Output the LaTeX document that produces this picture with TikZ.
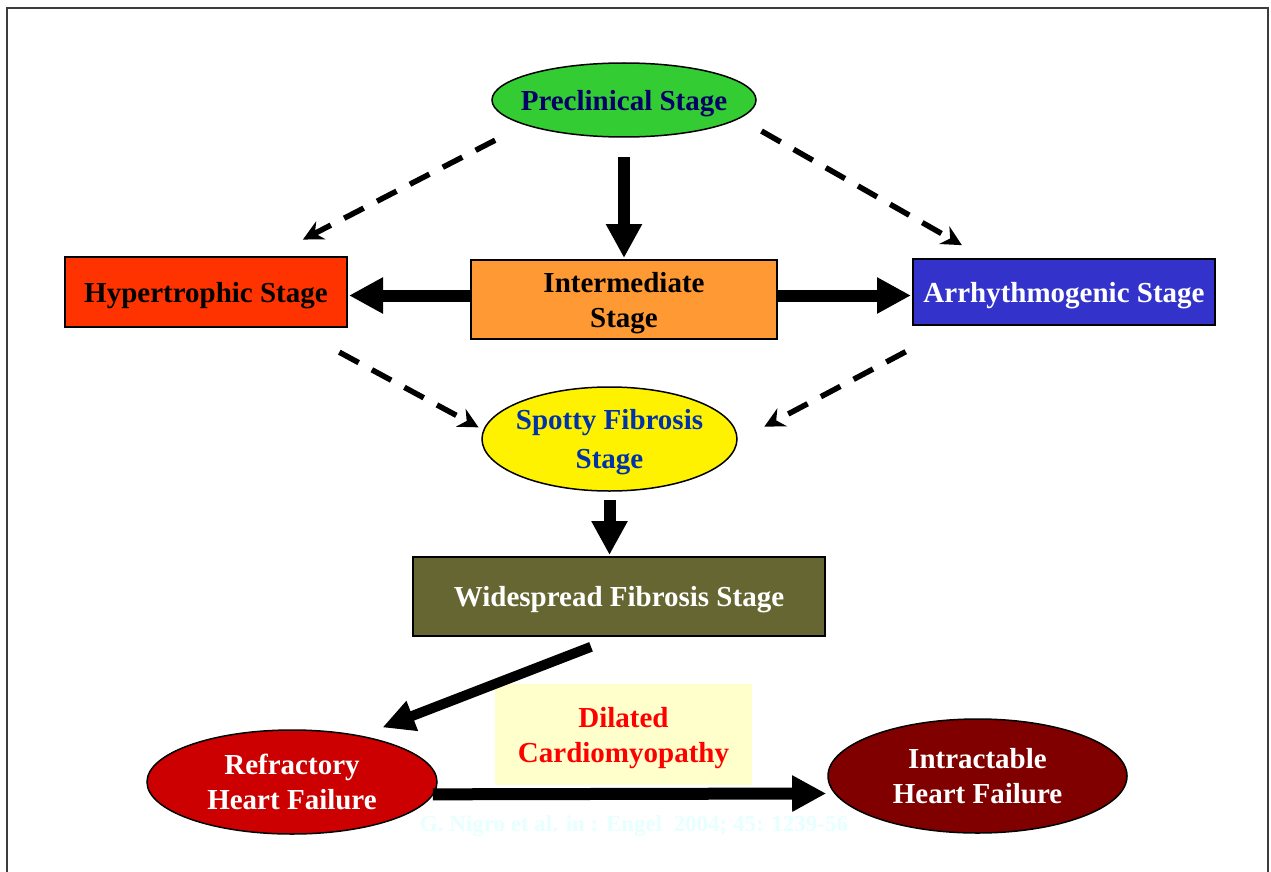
\documentclass[tikz,border=0pt]{standalone}
\usepackage{fontspec}
\setmainfont{Liberation Serif}
\usetikzlibrary{arrows.meta,shapes.geometric}

\definecolor{preGreen}{RGB}{51,204,51}
\definecolor{preText}{RGB}{0,0,102}
\definecolor{hypRed}{RGB}{255,51,0}
\definecolor{intOrange}{RGB}{255,153,51}
\definecolor{arrBlue}{RGB}{51,51,204}
\definecolor{spotText}{RGB}{0,51,170}
\definecolor{wideOlive}{RGB}{102,102,51}
\definecolor{refRed}{RGB}{204,0,0}
\definecolor{intrMaroon}{RGB}{128,0,0}
\definecolor{dcmYellow}{RGB}{255,255,204}
\definecolor{citeCyan}{RGB}{230,255,255}
\definecolor{frameGray}{RGB}{60,60,60}

\begin{document}
\begin{tikzpicture}[
    x=1pt, y=-1pt,
    font=\bfseries\fontsize{29}{35}\selectfont,
    stage/.style={draw, line width=1.5pt, outer sep=0pt, inner sep=2pt, align=center, text depth=0pt},
    box/.style={stage, rectangle},
    oval/.style={stage, ellipse},
    etxt/.style={align=center, inner sep=0pt, text depth=0pt},
    fatarr/.style={-{Triangle[length=34pt,width=34pt]}, line width=12pt},
    dasharr/.style={-{Stealth[length=20pt,width=20pt]}, line width=5.5pt, dash pattern=on 22pt off 15pt}
]
    \useasboundingbox (0,0) rectangle (1271,872);
    \draw[frameGray, line width=2pt] (7,872) -- (7,8) -- (1268,8) -- (1268,872);

    % stages
    \node[oval, fill=preGreen, minimum width=264pt, minimum height=74pt,
          label={[etxt, text=preText]center:Preclinical Stage}] (pre) at (624,100) {};
    \node[box, fill=hypRed, minimum width=282pt, minimum height=70pt] (hyp) at (206,292) {Hypertrophic Stage};
    \node[box, fill=intOrange, minimum width=306pt, minimum height=79pt] (int) at (624,299.5) {Intermediate\\Stage};
    \node[box, fill=arrBlue, text=white, minimum width=302pt, minimum height=66pt] (arr) at (1064,292) {Arrhythmogenic Stage};
    \node[oval, fill=yellow, minimum width=255pt, minimum height=104pt,
          label={[etxt, text=spotText, font=\bfseries\fontsize{29}{39}\selectfont]center:Spotty Fibrosis\\Stage}] (spot) at (609.5,439) {};
    \node[box, fill=wideOlive, text=white, minimum width=412pt, minimum height=79pt] (wide) at (619,596.5) {Widespread Fibrosis Stage};
    \node[fill=dcmYellow, text=red, align=center, text depth=0pt, minimum width=257pt, minimum height=101pt] (dcm) at (623.5,734.5) {Dilated\\Cardiomyopathy};
    \node[oval, fill=refRed, minimum width=290pt, minimum height=104pt,
          label={[etxt, text=white]center:Refractory\\Heart Failure}] (ref) at (292,782) {};
    \node[oval, fill=intrMaroon, minimum width=299pt, minimum height=114pt,
          label={[etxt, text=white]center:Intractable\\Heart Failure}] (intr) at (977.5,776) {};
    \node[text=citeCyan, font=\bfseries\fontsize{23}{27}\selectfont] (cite) at (634,826) {G. Nigro et al. in : Engel~~2004; 45: 1239-56};

    % solid arrows
    \draw[fatarr, shorten <=20pt, shorten >=2pt] (pre.south) -- (int.north);
    \draw[fatarr, shorten >=2pt] ([yshift=4pt]int.west) -- ([yshift=4pt]int.west -| hyp.east);
    \draw[fatarr, shorten >=2pt] ([yshift=4pt]int.east) -- ([yshift=4pt]int.east -| arr.west);
    \draw[fatarr, shorten <=9pt, shorten >=2pt] (spot.south) -- (spot.south |- wide.north);
    \draw[fatarr, -{Triangle[length=32pt,width=30pt]}, line width=10pt, shorten <=30pt, shorten >=24pt] (wide.south) -- (ref.34);
    \draw[fatarr, shorten >=9pt] (ref.-5) -- (intr.187);

    % dashed arrows
    \draw[dasharr, shorten <=34pt, shorten >=38pt] (pre.194) -- (hyp.29);
    \draw[dasharr, shorten <=26pt, shorten >=28pt] (pre.-9) -- (arr.157.5);
    \draw[dasharr, shorten <=53pt, shorten >=6pt] (hyp.-22) -- (spot.176);
    \draw[dasharr, shorten <=57pt, shorten >=31pt] (arr.197) -- (spot.-1);
\end{tikzpicture}
\end{document}
